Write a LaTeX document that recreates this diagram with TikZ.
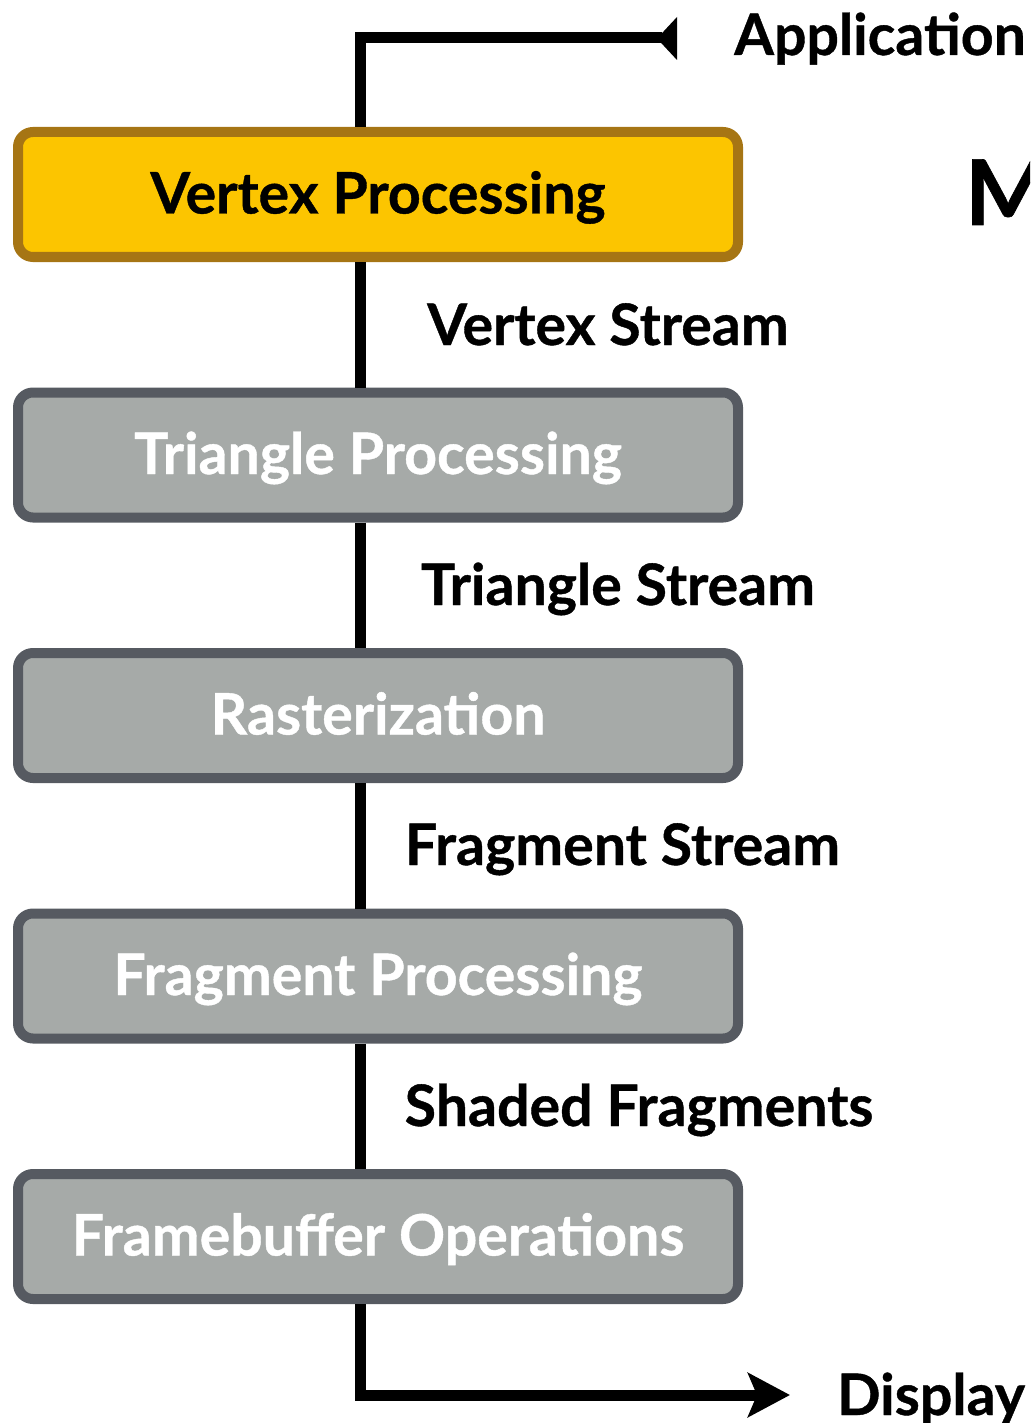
\documentclass[tikz,border=0pt]{standalone}
\usepackage{fontspec}
\setmainfont{Lato}[BoldFeatures={FakeBold=0.7}]
\usetikzlibrary{arrows.meta}
\definecolor{vfill}{HTML}{FCC500}
\definecolor{vline}{HTML}{A67514}
\definecolor{gfill}{HTML}{A6AAA8}
\definecolor{gline}{HTML}{565A61}
\tikzset{
  stage/.style={rounded corners=15pt, line width=10pt, minimum width=720pt, minimum height=125pt,
    inner sep=0pt},
  ystage/.style={stage, draw=vline, fill=vfill},
  gstage/.style={stage, draw=gline, fill=gfill},
  conn/.style={line width=11pt, draw=black},
  lbl/.style={anchor=base, inner sep=0pt, font=\fontsize{57.2}{60}\selectfont\bfseries, text=black},
  wlbl/.style={lbl, text=white},
}
\begin{document}
\begin{tikzpicture}[x=1pt, y=-1pt]
\useasboundingbox (0,0) rectangle (1030,1423);
\clip (0,0) rectangle (1030,1423);
\coordinate (colx) at (360.5,0);
% stages
\node[ystage] (vp) at (378,194.5) {};
\node[lbl] (vpt) at (378,213.5) {Vertex Processing};
\node[gstage] (tp) at (378,455) {};
\node[wlbl] (tpt) at (378,474) {Triangle Processing};
\node[gstage] (ra) at (378,715.5) {};
\node[wlbl] (rat) at (378,734.5) {Rasterization};
\node[gstage] (fp) at (378,976) {};
\node[wlbl] (fpt) at (378,995) {Fragment Processing};
\node[gstage] (fb) at (378,1236.5) {};
\node[wlbl] (fbt) at (378,1255.5) {Framebuffer Operations};
% connectors
\coordinate (apptip) at (662,38);
\coordinate (disptip) at (790,1395);
\draw[conn] (vp.north -| colx) |- (apptip);
\fill (677,17) -- (657,38.5) -- (677,60) -- cycle;
\draw[conn] (vp.south -| colx) -- (tp.north -| colx);
\draw[conn] (tp.south -| colx) -- (ra.north -| colx);
\draw[conn] (ra.south -| colx) -- (fp.north -| colx);
\draw[conn] (fp.south -| colx) -- (fb.north -| colx);
\draw[conn, -{Stealth[length=42pt, width=44pt, inset=9pt]}] (fb.south -| colx) |- (disptip);
% labels
\node[lbl] (l1) at (608,345) {Vertex Stream};
\node[lbl] (l2) at (618,605) {Triangle Stream};
\node[lbl] (l3) at (622.5,865) {Fragment Stream};
\node[lbl] (l4) at (639,1126) {Shaded Fragments};
\node[lbl] (app) at (880,55) {Application};
\node[lbl] (disp) at (931,1415) {Display};
\node[anchor=base west, inner sep=0pt, font=\fontsize{90.7}{95}\selectfont\bfseries] (title) at (965,225) {M};
\end{tikzpicture}
\end{document}
